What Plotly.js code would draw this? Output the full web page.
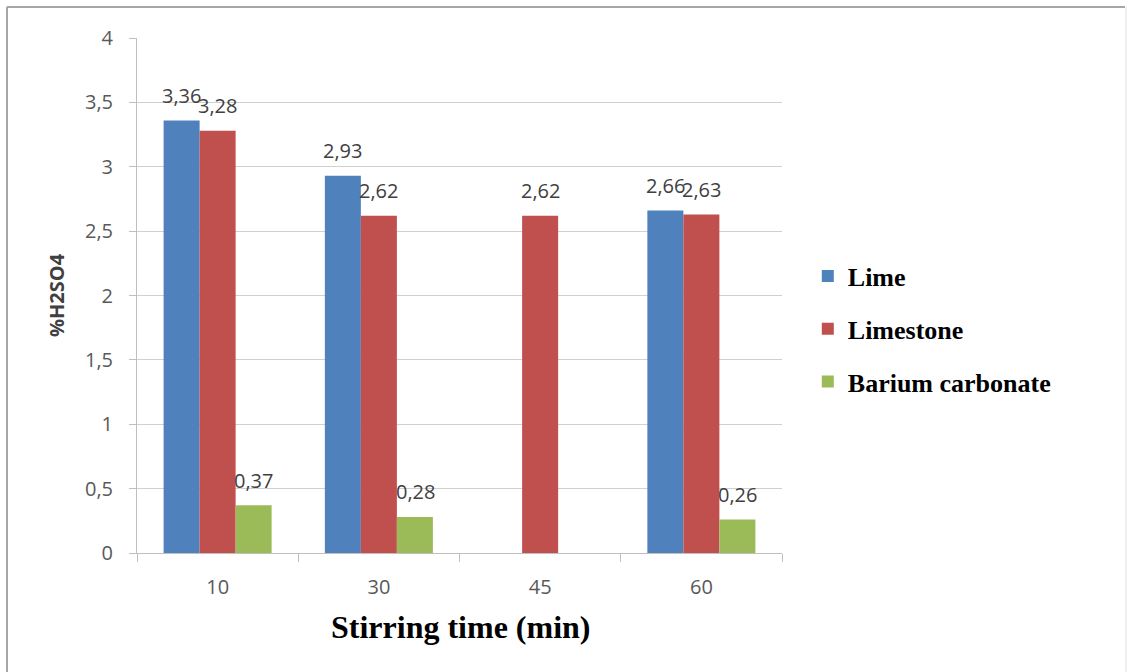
<!DOCTYPE html>
<html>
<head>
<meta charset="utf-8">
<script src="https://cdn.plot.ly/plotly-3.0.1.min.js"></script>
<style>
html,body{margin:0;padding:0;background:#fff;}
#chart{width:1127px;height:672px;}
</style>
</head>
<body>
<div id="chart"></div>
<script>
const categories = ["10", "30", "45", "60"];
const seriesNames = ["Lime", "Limestone", "Barium carbonate"];
const lime = [3.36, 2.93, null, 2.66];
const limestone = [3.28, 2.62, 2.62, 2.63];
const bariumCarbonate = [0.37, 0.28, null, 0.26];
const yTickVals = [0, 0.5, 1, 1.5, 2, 2.5, 3, 3.5, 4];
const yTickText = ["0", "0,5", "1", "1,5", "2", "2,5", "3", "3,5", "4"];
const xTitle = "Stirring time (min)";
const yTitle = "%H2SO4";

const colors = ["#4f81bd", "#c0504d", "#9bbb59"];
const allSeries = [lime, limestone, bariumCarbonate];

const traces = allSeries.map((vals, i) => ({
  type: "bar",
  name: seriesNames[i],
  x: categories,
  y: vals,
  marker: {color: colors[i]},
  legendgroup: "g" + i,
  hoverinfo: "skip"
}));

const fmt = v => v.toFixed(2).replace(".", ",");
const annotations = [];
allSeries.forEach((vals, i) => {
  vals.forEach((v, j) => {
    if (v === null) return;
    annotations.push({
      x: j, y: v, xref: "x", yref: "y",
      text: fmt(v), showarrow: false,
      xshift: (i - 1) * 36.3, yshift: 25,
      yanchor: "middle", xanchor: "center",
      font: {family: "Open Sans", size: 20, color: "#404040"}
    });
  });
});
annotations.push({
  x: 0.503, y: -0.1437, xref: "paper", yref: "paper",
  text: xTitle, showarrow: false, xanchor: "center", yanchor: "middle",
  font: {family: "Liberation Serif", size: 32, color: "#000000", weight: "bold"}
});

const layout = {
  width: 1127, height: 672,
  margin: {l: 137, r: 345, t: 38, b: 119},
  paper_bgcolor: "#ffffff", plot_bgcolor: "#ffffff",
  bargap: 0.33, bargroupgap: 0,
  showlegend: true,
  legend: {
    x: 1.04, xanchor: "left", y: 0.435, yanchor: "middle",
    font: {family: "Liberation Serif", size: 26, color: "#000000", weight: "bold"},
    tracegroupgap: 16, traceorder: "grouped",
    bgcolor: "rgba(0,0,0,0)"
  },
  xaxis: {
    type: "category",
    range: [-0.5, 3.5],
    tickson: "boundaries",
    ticks: "outside", ticklen: 8, tickcolor: "#bfbfbf",
    ticklabelstandoff: 16,
    showline: true, linecolor: "#bfbfbf", linewidth: 1,
    showgrid: false,
    tickfont: {family: "Open Sans", size: 20, color: "#595959"},
    fixedrange: true
  },
  yaxis: {
    range: [0, 4],
    tickvals: yTickVals, ticktext: yTickText,
    ticks: "outside", ticklen: 7, tickcolor: "#bfbfbf",
    ticklabelstandoff: 12,
    showline: true, linecolor: "#bfbfbf", linewidth: 1,
    showgrid: true, gridcolor: "#d0d0d0", gridwidth: 1,
    zeroline: false,
    tickfont: {family: "Open Sans", size: 20, color: "#595959"},
    title: {text: yTitle, font: {family: "Open Sans", size: 20, color: "#404040", weight: "bold"}, standoff: 14},
    fixedrange: true
  },
  annotations: annotations,
  shapes: [
    {type: "line", xref: "paper", yref: "paper", x0: (7-137)/645, x1: (1125-137)/645, y0: (553-7)/515, y1: (553-7)/515, line: {color: "#a6a6a6", width: 2}},
    {type: "line", xref: "paper", yref: "paper", x0: (7-137)/645, x1: (7-137)/645, y0: (553-7)/515, y1: (553-672)/515, line: {color: "#a6a6a6", width: 2}},
    {type: "line", xref: "paper", yref: "paper", x0: (1126-137)/645, x1: (1126-137)/645, y0: (553-7)/515, y1: (553-672)/515, line: {color: "#e0e0e0", width: 1}}
  ]
};

Plotly.newPlot("chart", traces, layout, {displayModeBar: false, staticPlot: true});
</script>
</body>
</html>
